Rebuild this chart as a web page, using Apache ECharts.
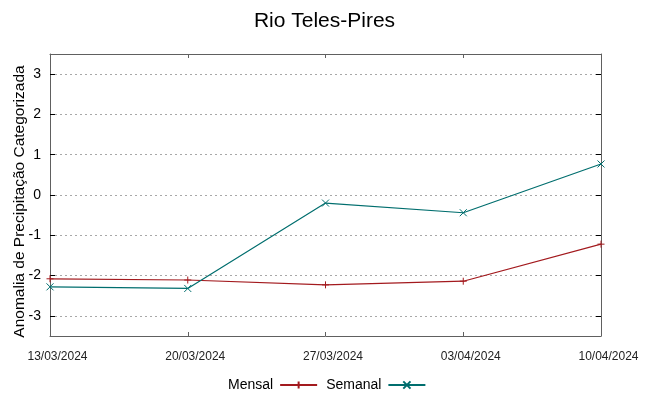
<!DOCTYPE html>
<html>
<head>
<meta charset="utf-8">
<script src="https://cdn.jsdelivr.net/npm/echarts@6/dist/echarts.min.js"></script>
<style>html,body{margin:0;padding:0;background:#fff}#c{width:649px;height:396px}</style>
</head>
<body>
<div id="c"></div>
<script>
const categories = ['13/03/2024','20/03/2024','27/03/2024','03/04/2024','10/04/2024'];
const mensal = [-2.08, -2.11, -2.23, -2.14, -1.22];
const semanal = [-2.28, -2.32, -0.20, -0.44, 0.77];
const yTicks = [-3, -2, -1, 0, 1, 2, 3];

const FONT = 'Liberation Sans';
const AXIS_COLOR = '#606060';
const RED = '#a31a1e';
const TEAL = '#006e6e';
const PLUS = 'path://M5,0L5,10M0,5L10,5';
const CROSS = 'path://M0,0L10,10M10,0L0,10';

const chart = echarts.init(document.getElementById('c'), null, {renderer: 'canvas'});
chart.setOption({
  animation: false,
  backgroundColor: '#fff',
  textStyle: {fontFamily: FONT},
  title: {
    text: 'Rio Teles-Pires', left: 'center', top: 6,
    textStyle: {fontFamily: FONT, fontSize: 21, fontWeight: 'normal', color: '#000'}
  },
  legend: {
    left: 223, top: 373, align: 'right', itemWidth: 37, itemHeight: 9, itemGap: 8,
    textStyle: {fontFamily: FONT, fontSize: 14, color: '#000', padding: [0, 2, 0, 0]},
    data: ['Mensal', 'Semanal']
  },
  grid: {left: 50, right: 48, top: 54, bottom: 60, containLabel: false, outerBoundsMode: 'none'},
  xAxis: [{
    type: 'category', data: categories, boundaryGap: false, position: 'bottom',
    axisLine: {show: true, onZero: false, lineStyle: {color: AXIS_COLOR, width: 1}},
    axisTick: {show: true, inside: true, length: 4, lineStyle: {color: AXIS_COLOR}},
    axisLabel: {show: true, margin: 15, fontSize: 12, color: '#222', fontFamily: FONT, padding: [0, 0, 0, 15], interval: 0},
    splitLine: {show: false}
  }, {
    type: 'category', data: categories, boundaryGap: false, position: 'top',
    axisLine: {show: true, onZero: false, lineStyle: {color: AXIS_COLOR, width: 1}},
    axisTick: {show: true, inside: true, length: 4, lineStyle: {color: AXIS_COLOR}},
    axisLabel: {show: false},
    splitLine: {show: false}
  }],
  yAxis: [{
    type: 'value', min: -3.5, max: 3.5, position: 'left',
    name: 'Anomalia de Precipitação Categorizada', nameLocation: 'middle', nameGap: 22,
    nameMoveOverlap: false,
    nameTextStyle: {fontFamily: FONT, fontSize: 15.5, color: '#000', padding: [0, 13, 0, 0]},
    axisLine: {show: true, onZero: false, lineStyle: {color: AXIS_COLOR, width: 1}},
    axisTick: {show: true, inside: true, length: 5, customValues: yTicks, lineStyle: {color: '#000'}},
    axisLabel: {show: true, customValues: yTicks, margin: 9, fontSize: 14, color: '#000', fontFamily: FONT},
    splitLine: {show: true, lineStyle: {color: '#a8a8a8', type: [2, 3], width: 1}}
  }, {
    type: 'value', min: -3.5, max: 3.5, position: 'right',
    axisLine: {show: true, onZero: false, lineStyle: {color: AXIS_COLOR, width: 1}},
    axisTick: {show: true, inside: true, length: 5, customValues: yTicks, lineStyle: {color: '#000'}},
    axisLabel: {show: false},
    splitLine: {show: false}
  }],
  series: [{
    name: 'Mensal', type: 'line', data: mensal, xAxisIndex: 0, yAxisIndex: 0,
    symbol: PLUS, symbolSize: 7, showSymbol: true,
    lineStyle: {color: RED, width: 1.2},
    itemStyle: {color: RED, borderColor: RED, borderWidth: 1},
    emphasis: {disabled: true}, z: 3
  }, {
    name: 'Semanal', type: 'line', data: semanal, xAxisIndex: 0, yAxisIndex: 0,
    symbol: CROSS, symbolSize: 7, showSymbol: true,
    lineStyle: {color: TEAL, width: 1.2},
    itemStyle: {color: TEAL, borderColor: TEAL, borderWidth: 1},
    emphasis: {disabled: true}, z: 4
  }]
});
</script>
</body>
</html>
